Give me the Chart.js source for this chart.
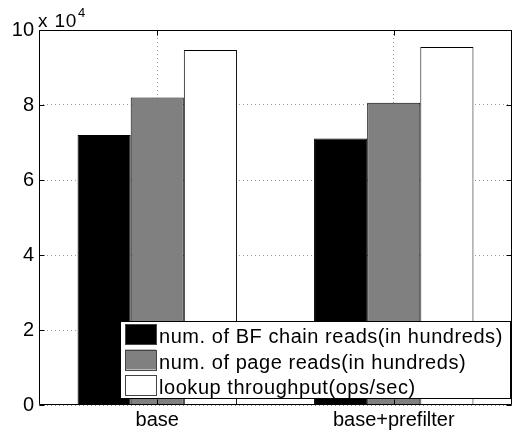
<!DOCTYPE html>
<html lang="en">
<head>
    <meta charset="UTF-8">
    <title>Bloom filter lookups</title>
    <script src="https://cdn.jsdelivr.net/npm/chart.js"></script>
    <style>
        html, body { margin: 0; padding: 0; background: #fff; }
        #wrap { width: 512px; height: 436px; }
    </style>
</head>
<body>
    <div id="wrap"><canvas id="barChart" width="512" height="436"></canvas></div>
    <script>
        // data (values in raw units, axis shows x 10^4)
        const categories = ['base', 'base+prefilter'];
        const seriesNames = [
            'num. of BF chain reads(in hundreds)',
            'num. of page reads(in hundreds)',
            'lookup throughput(ops/sec)'
        ];
        const bfChainReads = [72000, 71100];
        const pageReads = [82000, 80600];
        const throughput = [94700, 95500];
        const yTicks = [0, 20000, 40000, 60000, 80000, 100000];

        const FONT = 'Arial, "Liberation Sans", sans-serif';

        // MATLAB-like frame, inward ticks, exponent label and legend box
        const matlabDecor = {
            id: 'matlabDecor',
            afterDatasetsDraw(chart) {
                const ctx = chart.ctx;
                const a = chart.chartArea;
                const y = chart.scales.y;
                const x = chart.scales.x;
                const L = Math.round(a.left) + 0.5, R = Math.round(a.right) - 0.5;
                const T = Math.round(a.top) + 0.5, B = Math.round(a.bottom) - 0.5;
                ctx.save();
                ctx.strokeStyle = '#000';
                ctx.lineWidth = 1;
                ctx.setLineDash([]);
                ctx.beginPath();
                ctx.moveTo(L, T); ctx.lineTo(R, T); ctx.lineTo(R, B); ctx.lineTo(L, B); ctx.closePath();

                // inward ticks
                yTicks.forEach(v => {
                    const py = Math.round(y.getPixelForValue(v)) + 0.5;
                    ctx.moveTo(L, py); ctx.lineTo(L + 5, py);
                    ctx.moveTo(R, py); ctx.lineTo(R - 5, py);
                });
                categories.forEach((c, i) => {
                    const px = Math.round(x.getPixelForValue(i)) + 0.5;
                    ctx.moveTo(px, B); ctx.lineTo(px, B - 5);
                    ctx.moveTo(px, T); ctx.lineTo(px, T + 5);
                });
                ctx.stroke();

                // exponent
                ctx.fillStyle = '#000';
                ctx.textBaseline = 'alphabetic';
                ctx.textAlign = 'left';
                ctx.font = '19px ' + FONT;
                ctx.letterSpacing = '0.8px';
                const base = 'x 10';
                ctx.fillText(base, a.left - 1, a.top - 3);
                const bw = ctx.measureText(base).width;
                ctx.font = '13px ' + FONT;
                ctx.fillText('4', a.left - 1 + bw + 1, a.top - 13);

                // legend
                const lx = 120, ly = 321, lw = 390, lh = 77;
                ctx.fillStyle = '#fff';
                ctx.fillRect(lx, ly, lw, lh);
                ctx.strokeStyle = '#000';
                ctx.strokeRect(lx + 0.5, ly + 0.5, lw, lh);
                ctx.font = '20px ' + FONT;
                ctx.letterSpacing = '0.55px';
                ctx.textBaseline = 'alphabetic';
                chart.data.datasets.forEach((ds, i) => {
                    const top = ly + 3 + i * 25.5;
                    ctx.fillStyle = ds.backgroundColor;
                    ctx.fillRect(lx + 5, top, 31, 20);
                    ctx.strokeStyle = '#444';
                    ctx.strokeRect(lx + 5.5, Math.round(top) + 0.5, 31, 20);
                    ctx.fillStyle = '#000';
                    ctx.fillText(ds.label, lx + 39, top + 19);
                });
                ctx.restore();
            }
        };

        const ctx = document.getElementById('barChart').getContext('2d');
        new Chart(ctx, {
            type: 'bar',
            data: {
                labels: categories,
                datasets: [
                    { label: seriesNames[0], data: bfChainReads, backgroundColor: '#000000' },
                    { label: seriesNames[1], data: pageReads, backgroundColor: '#808080' },
                    { label: seriesNames[2], data: throughput, backgroundColor: '#ffffff' }
                ]
            },
            plugins: [matlabDecor],
            options: {
                responsive: false,
                animation: false,
                devicePixelRatio: 1,
                layout: { padding: { top: 30, right: 0, left: 0, bottom: 0 } },
                datasets: {
                    bar: {
                        borderColor: '#000',
                        borderWidth: 1,
                        categoryPercentage: 0.674,
                        barPercentage: 1.0
                    }
                },
                plugins: {
                    legend: { display: false },
                    tooltip: { enabled: false }
                },
                scales: {
                    x: {
                        afterFit(scale) { scale.height = 31; },
                        grid: {
                            offset: false,
                            color: '#999',
                            lineWidth: 1,
                            drawTicks: false
                        },
                        border: { display: false, dash: [1, 3] },
                        ticks: { color: '#000', font: { size: 20, family: FONT }, padding: 3 }
                    },
                    y: {
                        min: 0,
                        max: 100000,
                        afterFit(scale) { scale.width = 39; },
                        afterBuildTicks(scale) { scale.ticks = yTicks.map(v => ({ value: v })); },
                        grid: { color: '#999', lineWidth: 1, drawTicks: false },
                        border: { display: false, dash: [1, 3] },
                        ticks: {
                            color: '#000',
                            font: { size: 20, family: FONT },
                            padding: 5,
                            callback: v => String(v / 10000)
                        }
                    }
                }
            }
        });
    </script>
</body>
</html>
